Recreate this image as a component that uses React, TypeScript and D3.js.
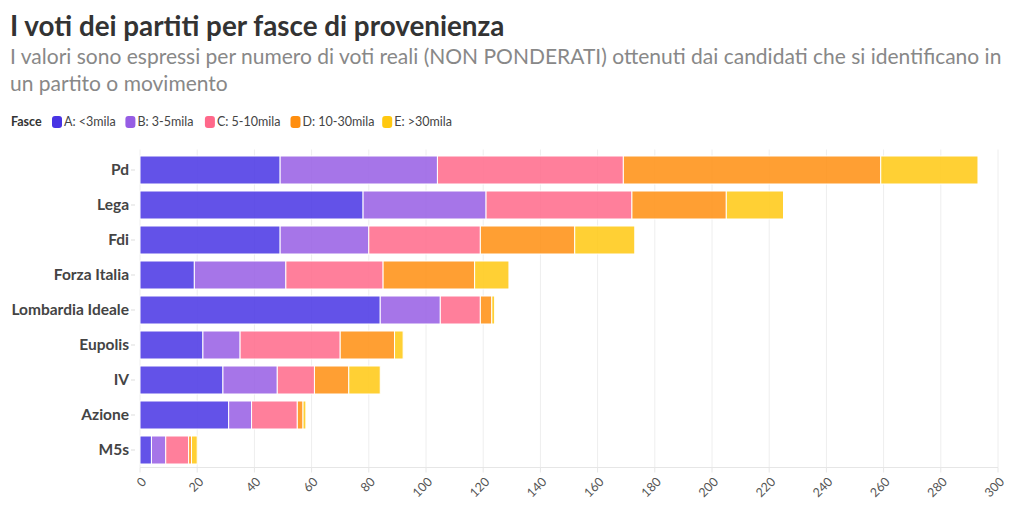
import React from "react";
import * as d3 from "d3";

const parties = ["Pd", "Lega", "Fdi", "Forza Italia", "Lombardia Ideale", "Eupolis", "IV", "Azione", "M5s"];
const seriesKeys = ["A", "B", "C", "D", "E"];
const seriesLabels = ["A: <3mila", "B: 3-5mila", "C: 5-10mila", "D: 10-30mila", "E: >30mila"];
const seriesColors = ["#4834E4", "#965DE4", "#FF688A", "#FF8E0F", "#FFC810"];
const valuesA = [49, 78, 49, 19, 84, 22, 29, 31, 4];
const valuesB = [55, 43, 31, 32, 21, 13, 19, 8, 5];
const valuesC = [65, 51, 39, 34, 14, 35, 13, 16, 8];
const valuesD = [90, 33, 33, 32, 4, 19, 12, 2, 1];
const valuesE = [34, 20, 21, 12, 1, 3, 11, 1, 2];
const xTicks = [0, 20, 40, 60, 80, 100, 120, 140, 160, 180, 200, 220, 240, 260, 280, 300];

const FONT = "Lato, 'Open Sans', sans-serif";

export default function App() {
  const W = 1020, H = 516;
  const m = { left: 140, right: 22, top: 152.5, bottom: 48.5 };
  const rows = parties.map((p, i) => ({
    party: p,
    A: valuesA[i], B: valuesB[i], C: valuesC[i], D: valuesD[i], E: valuesE[i],
  }));
  const stack = d3.stack<any>().keys(seriesKeys)(rows);
  const x = d3.scaleLinear().domain([0, 300]).range([m.left, W - m.right]);
  const y = d3.scaleBand().domain(parties).range([m.top, H - m.bottom]).paddingInner(0.2).paddingOuter(0.1);

  const legendItems: { x: number; label: string; color: string }[] = [];
  let lx = 52;
  seriesLabels.forEach((lab, i) => {
    legendItems.push({ x: lx, label: lab, color: seriesColors[i] });
    lx += 12 + lab.length * 6.1 + 6.5;
  });

  return (
    <svg width={W} height={H} style={{ position: "absolute", left: 0, top: 0, background: "#fff" }} fontFamily={FONT}>
      <text x={10} y={36} fontSize={27.8} fontWeight={700} fill="#333">I voti dei partiti per fasce di provenienza</text>
      <text x={10} y={64} fontSize={21} fill="#888">I valori sono espressi per numero di voti reali (NON PONDERATI) ottenuti dai candidati che si identificano in</text>
      <text x={10} y={91} fontSize={21} fill="#888">un partito o movimento</text>
      <text x={11} y={126} fontSize={12.5} fontWeight={700} fill="#333">Fasce</text>
      {legendItems.map((it, i) => (
        <g key={i}>
          <rect x={it.x} y={116} width={10} height={12} rx={3} fill={it.color} />
          <text x={it.x + 12} y={126} fontSize={12.5} fill="#444">{it.label}</text>
        </g>
      ))}
      {xTicks.map((t) => (
        <line key={"g" + t} x1={x(t)} x2={x(t)} y1={m.top - 3} y2={H - m.bottom} stroke="#eee" strokeWidth={1} />
      ))}
      <line x1={m.left} x2={W - m.right} y1={H - m.bottom} y2={H - m.bottom} stroke="#e6e6e6" />
      {xTicks.map((t) => (
        <g key={"t" + t}>
          <line x1={x(t)} x2={x(t)} y1={H - m.bottom} y2={H - m.bottom + 5} stroke="#e6e6e6" />
          <text transform={`translate(${x(t) + 4},${H - m.bottom + 12}) rotate(-45)`} textAnchor="end" dy="0.35em" fontSize={12.5} fill="#555">{t}</text>
        </g>
      ))}
      {stack.map((s, si) => (
        <g key={s.key}>
          {s.map((d, di) => (
            <rect key={di} x={x(d[0])} y={y(parties[di])} width={Math.max(0, x(d[1]) - x(d[0]))} height={y.bandwidth()}
              fill={seriesColors[si]} fillOpacity={0.85} stroke="#fff" strokeWidth={1} />
          ))}
        </g>
      ))}
      {parties.map((p) => (
        <g key={p}>
          <line x1={m.left - 9} x2={m.left - 5} y1={y(p)! + y.bandwidth() / 2} y2={y(p)! + y.bandwidth() / 2} stroke="#ddd" />
          <text x={129} y={y(p)! + y.bandwidth() / 2} dy="0.35em" textAnchor="end" fontSize={15.5} fontWeight={700} fill="#444">{p}</text>
        </g>
      ))}
    </svg>
  );
}
